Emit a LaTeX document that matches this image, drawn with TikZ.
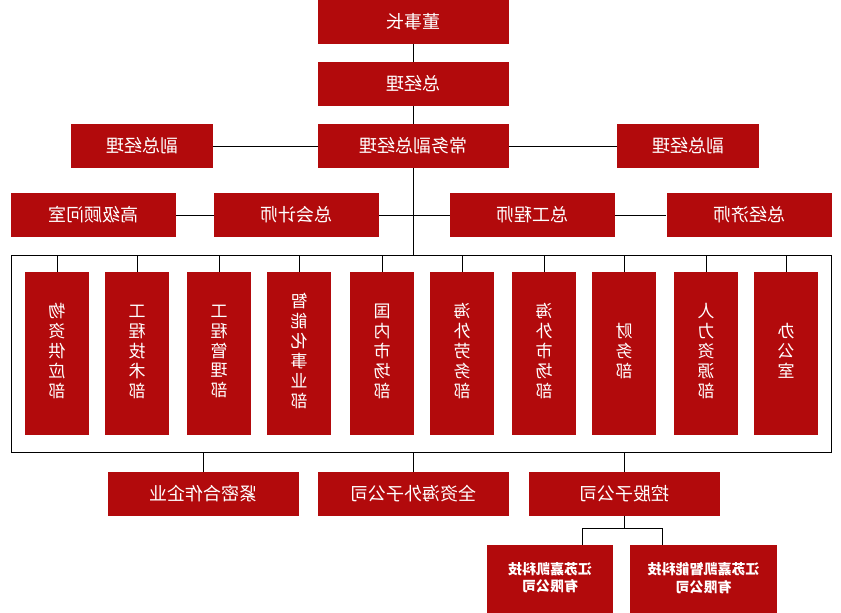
\documentclass[tikz,border=0pt]{standalone}
\usepackage{fontspec}
\setmainfont{Noto Sans CJK SC}
\usepackage{xcolor}
\usetikzlibrary{positioning}

\definecolor{kred}{RGB}{178,10,12}
% mirrored text, as in the chart
\newcommand{\flip}[1]{\reflectbox{#1}}
\newcommand{\vcol}[1]{\flip{\begin{tabular}{@{}c@{}}#1\end{tabular}}}

\begin{document}
\begin{tikzpicture}[x=1pt, y=-1pt, line width=0.8pt,
    box/.style={fill=kred, text=white, inner sep=0pt, font=\fontsize{18}{20}\selectfont},
    topbox/.style={box, minimum width=191pt, minimum height=44pt},
    vpbox/.style={box, minimum width=142pt, minimum height=44pt},
    staffbox/.style={box, minimum width=165pt, minimum height=44pt},
    deptbox/.style={box, minimum width=64pt, minimum height=163pt, font=\fontsize{17}{19}\selectfont},
    subbox/.style={box, minimum height=70pt, font=\fontsize{14}{17}\selectfont\bfseries}]

    \useasboundingbox (0,0) rectangle (841,613);

    % =================================================================
    % 1. LEADERS
    % =================================================================
    \node[topbox] (ceo) at (413.5,22) {\flip{董事长}};
    \node[topbox] (gm)  at (413.5,84) {\flip{总经理}};
    \node[topbox] (cvp) at (413.5,146) {\flip{常务副总经理}};
    \node[vpbox] (vpl) at (142,146) {\flip{副总经理}};
    \node[vpbox] (vpr) at (688,146) {\flip{副总经理}};

    \node[staffbox] (adv) at (93.5,215) {\flip{高级顾问室}};
    \node[staffbox] (acc) at (296.5,215) {\flip{总会计师}};
    \node[staffbox] (eng) at (532.5,215) {\flip{总工程师}};
    \node[staffbox] (eco) at (749,215) {\flip{总经济师}};

    \draw (ceo) -- (gm);
    \draw (gm) -- (cvp);
    \draw (vpl) -- (cvp);
    \draw (cvp) -- (vpr);
    \draw (adv) -- (acc);
    \draw (acc) -- (eng);
    \draw (eng) -- (eco);

    % =================================================================
    % 2. DEPARTMENTS
    % =================================================================
    \coordinate (ftop) at (413.5,255);
    \coordinate (fbot) at (413.5,452.5);
    \draw (11,255) rectangle (831.5,452.5);
    \draw (cvp.south) -- (ftop);

    \node[deptbox] (d1)  at (57,353.5)  {\vcol{物\\资\\供\\应\\部}};
    \node[deptbox] (d2)  at (137,353.5) {\vcol{工\\程\\技\\术\\部}};
    \node[deptbox] (d3)  at (219,353.5) {\vcol{工\\程\\管\\理\\部}};
    \node[deptbox] (d4)  at (299,353.5) {\vcol{智\\能\\化\\事\\业\\部}};
    \node[deptbox] (d5)  at (382,353.5) {\vcol{国\\内\\市\\场\\部}};
    \node[deptbox] (d6)  at (462,353.5) {\vcol{海\\外\\劳\\务\\部}};
    \node[deptbox] (d7)  at (544,353.5) {\vcol{海\\外\\市\\场\\部}};
    \node[deptbox] (d8)  at (624,353.5) {\vcol{财\\务\\部}};
    \node[deptbox] (d9)  at (706,353.5) {\vcol{人\\力\\资\\源\\部}};
    \node[deptbox] (d10) at (786,353.5) {\vcol{办\\公\\室}};

    \foreach \d in {d1,d2,d3,d4,d5,d6,d7,d8,d9,d10}
        \draw (\d.north) -- (\d.north |- ftop);

    % =================================================================
    % 3. COMPANIES
    % =================================================================
    \node[topbox] (ent)  at (203.5,494) {\flip{紧密合作企业}};
    \node[topbox] (ovs)  at (413.5,494) {\flip{全资海外子公司}};
    \node[topbox] (hold) at (624,494)   {\flip{控股子公司}};

    \foreach \c in {ent,ovs,hold}
        \draw (\c.north) -- (\c.north |- fbot);

    \node[subbox, minimum width=126pt] (sub1) at (550,580)
        {\flip{\begin{tabular}{@{}c@{}}江苏嘉凯科技\\有限公司\end{tabular}}};
    \node[subbox, minimum width=147pt] (sub2) at (703.5,580)
        {\flip{\begin{tabular}{@{}c@{}}江苏嘉凯智能科技\\有限公司\end{tabular}}};

    \coordinate (jl) at (582,528);
    \coordinate (jr) at (662,528);
    \draw (hold.south) -- (hold.south |- jl);
    \draw (jl) -- (jr);
    \draw (jl) -- (jl |- sub1.north);
    \draw (jr) -- (jr |- sub2.north);

\end{tikzpicture}
\end{document}
